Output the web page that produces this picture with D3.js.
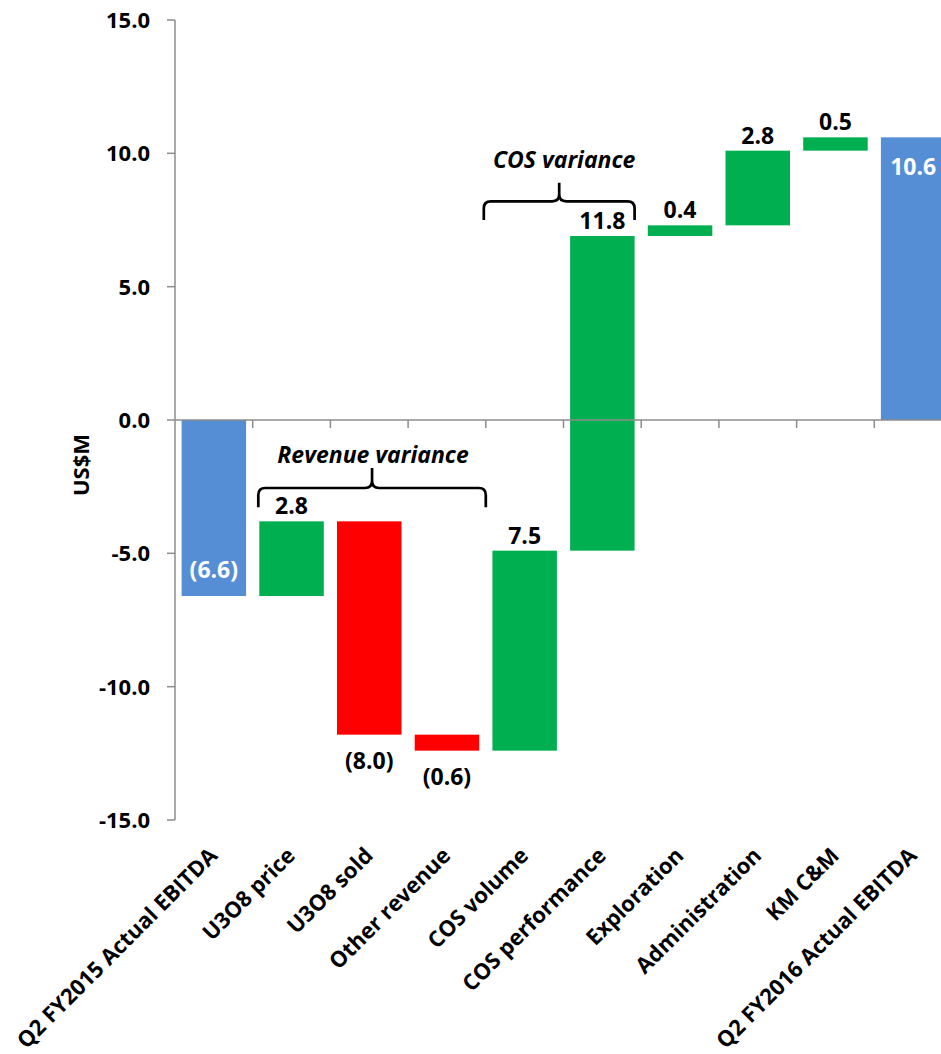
<!DOCTYPE html>
<html>
<head>
<meta charset="utf-8">
<script src="https://cdn.jsdelivr.net/npm/d3@7"></script>
<style>
  body { margin: 0; background: #fff; }
  text { font-family: "Open Sans", Lato, sans-serif; font-weight: bold; }
</style>
</head>
<body>
<div id="chart"></div>
<script>
var categories = ['Q2 FY2015 Actual EBITDA', 'U3O8 price', 'U3O8 sold', 'Other revenue',
  'COS volume', 'COS performance', 'Exploration', 'Administration', 'KM C&M',
  'Q2 FY2016 Actual EBITDA'];
var changes = [-6.6, 2.8, -8.0, -0.6, 7.5, 11.8, 0.4, 2.8, 0.5, 10.6];
var isTotal = [true, false, false, false, false, false, false, false, false, true];
var yTicks = [15, 10, 5, 0, -5, -10, -15];

var W = 941, H = 1054;
var colors = { total: '#558ED5', up: '#00B050', down: '#FF0000' };

// waterfall: running base
var bars = [];
var run = 0;
changes.forEach(function(v, i) {
  var b;
  if (isTotal[i]) { b = { y0: 0, y1: v }; run = v; }
  else { b = { y0: run, y1: run + v }; run += v; }
  b.v = v; b.cat = categories[i]; b.total = isTotal[i];
  bars.push(b);
});

var svg = d3.select('#chart').append('svg')
  .attr('width', W).attr('height', H);

var x = d3.scaleBand().domain(categories)
  .range([175, 952]).paddingInner(0.17).paddingOuter(0.085);
var y = d3.scaleLinear().domain([-15, 15]).range([820, 20]);

var fmt = function(v) {
  var s = d3.format('.1f')(Math.abs(v));
  return v < 0 ? '(' + s + ')' : s;
};

// bars
svg.selectAll('rect.bar').data(bars).enter().append('rect')
  .attr('class', 'bar')
  .attr('x', function(d) { return x(d.cat); })
  .attr('width', x.bandwidth())
  .attr('y', function(d) { return y(Math.max(d.y0, d.y1)); })
  .attr('height', function(d) { return Math.abs(y(d.y0) - y(d.y1)); })
  .attr('fill', function(d) { return d.total ? colors.total : (d.v >= 0 ? colors.up : colors.down); });

// axes
var axisColor = '#8c8c8c';
svg.append('line').attr('x1', 175).attr('x2', W).attr('y1', y(0)).attr('y2', y(0))
  .attr('stroke', axisColor).attr('stroke-width', 1.5);
svg.append('line').attr('x1', 175).attr('x2', 175).attr('y1', y(15)).attr('y2', y(-15))
  .attr('stroke', axisColor).attr('stroke-width', 1.5);

// y ticks
svg.selectAll('line.yt').data(yTicks).enter().append('line')
  .attr('x1', 167).attr('x2', 175)
  .attr('y1', function(d) { return y(d); }).attr('y2', function(d) { return y(d); })
  .attr('stroke', axisColor).attr('stroke-width', 1.5);
svg.selectAll('text.yl').data(yTicks).enter().append('text')
  .attr('x', 150).attr('y', function(d) { return y(d); })
  .attr('dy', '0.36em').attr('text-anchor', 'end')
  .attr('font-size', 22).attr('fill', '#000')
  .text(function(d) { return d3.format('.1f')(d).replace('\u2212', '-'); });

// category ticks along zero line
svg.selectAll('line.xt').data(categories.slice(1)).enter().append('line')
  .attr('x1', function(d) { return x(d) - x.step() * x.paddingInner() / 2; })
  .attr('x2', function(d) { return x(d) - x.step() * x.paddingInner() / 2; })
  .attr('y1', y(0)).attr('y2', y(0) + 8)
  .attr('stroke', axisColor).attr('stroke-width', 1.5);

// category labels
svg.selectAll('text.cl').data(categories).enter().append('text')
  .attr('transform', function(d) {
    return 'translate(' + (x(d) + x.bandwidth() / 2 + 5) + ',857) rotate(-45)';
  })
  .attr('text-anchor', 'end').attr('font-size', 22).attr('fill', '#000')
  .text(function(d) { return d; });

// axis title
svg.append('text')
  .attr('transform', 'translate(89,465) rotate(-90)')
  .attr('text-anchor', 'middle').attr('font-size', 22).attr('fill', '#000')
  .text('US$M');

// value labels
svg.selectAll('text.vl').data(bars).enter().append('text')
  .attr('x', function(d) { return x(d.cat) + x.bandwidth() / 2; })
  .attr('y', function(d) {
    if (d.total) {
      return d.v < 0 ? y(d.y1) - 18 : y(d.y1) + 38;
    }
    return d.v >= 0 ? y(d.y1) - 7 : y(d.y1) + 34;
  })
  .attr('text-anchor', 'middle').attr('font-size', 23)
  .attr('fill', function(d) { return d.total ? '#fff' : '#000'; })
  .text(function(d) { return fmt(d.v); });

// braces
function brace(x0, x1, xm, yLine, yEnd, yTip) {
  var r = 7;
  return 'M' + x0 + ',' + yEnd + ' L' + x0 + ',' + (yLine + r) +
    ' Q' + x0 + ',' + yLine + ' ' + (x0 + r) + ',' + yLine +
    ' L' + (xm - r) + ',' + yLine +
    ' Q' + xm + ',' + yLine + ' ' + xm + ',' + (yLine - r) +
    ' L' + xm + ',' + yTip +
    ' M' + xm + ',' + (yLine - r) +
    ' Q' + xm + ',' + yLine + ' ' + (xm + r) + ',' + yLine +
    ' L' + (x1 - r) + ',' + yLine +
    ' Q' + x1 + ',' + yLine + ' ' + x1 + ',' + (yLine + r) +
    ' L' + x1 + ',' + yEnd;
}
var revL = x('U3O8 price') - 1, revR = x('COS volume') - x.step() * x.paddingInner() / 2;
var revM = (revL + revR) / 2;
svg.append('path')
  .attr('d', brace(revL, revR, revM, y(-2.55), y(-3.27), y(-1.8)))
  .attr('fill', 'none').attr('stroke', '#000').attr('stroke-width', 2.7);
svg.append('text').attr('x', revM + 1).attr('y', y(-1.62))
  .attr('text-anchor', 'middle').attr('font-size', 23).attr('font-style', 'italic')
  .attr('fill', '#000').text('Revenue variance');

var cosL = revR - 2, cosR = x('COS performance') + x.bandwidth();
var cosM = (cosL + cosR) / 2;
svg.append('path')
  .attr('d', brace(cosL, cosR, cosM, y(8.2), y(7.5), y(8.9)))
  .attr('fill', 'none').attr('stroke', '#000').attr('stroke-width', 2.7);
svg.append('text').attr('x', cosM + 5).attr('y', y(9.45))
  .attr('text-anchor', 'middle').attr('font-size', 23).attr('font-style', 'italic')
  .attr('fill', '#000').text('COS variance');
</script>
</body>
</html>
